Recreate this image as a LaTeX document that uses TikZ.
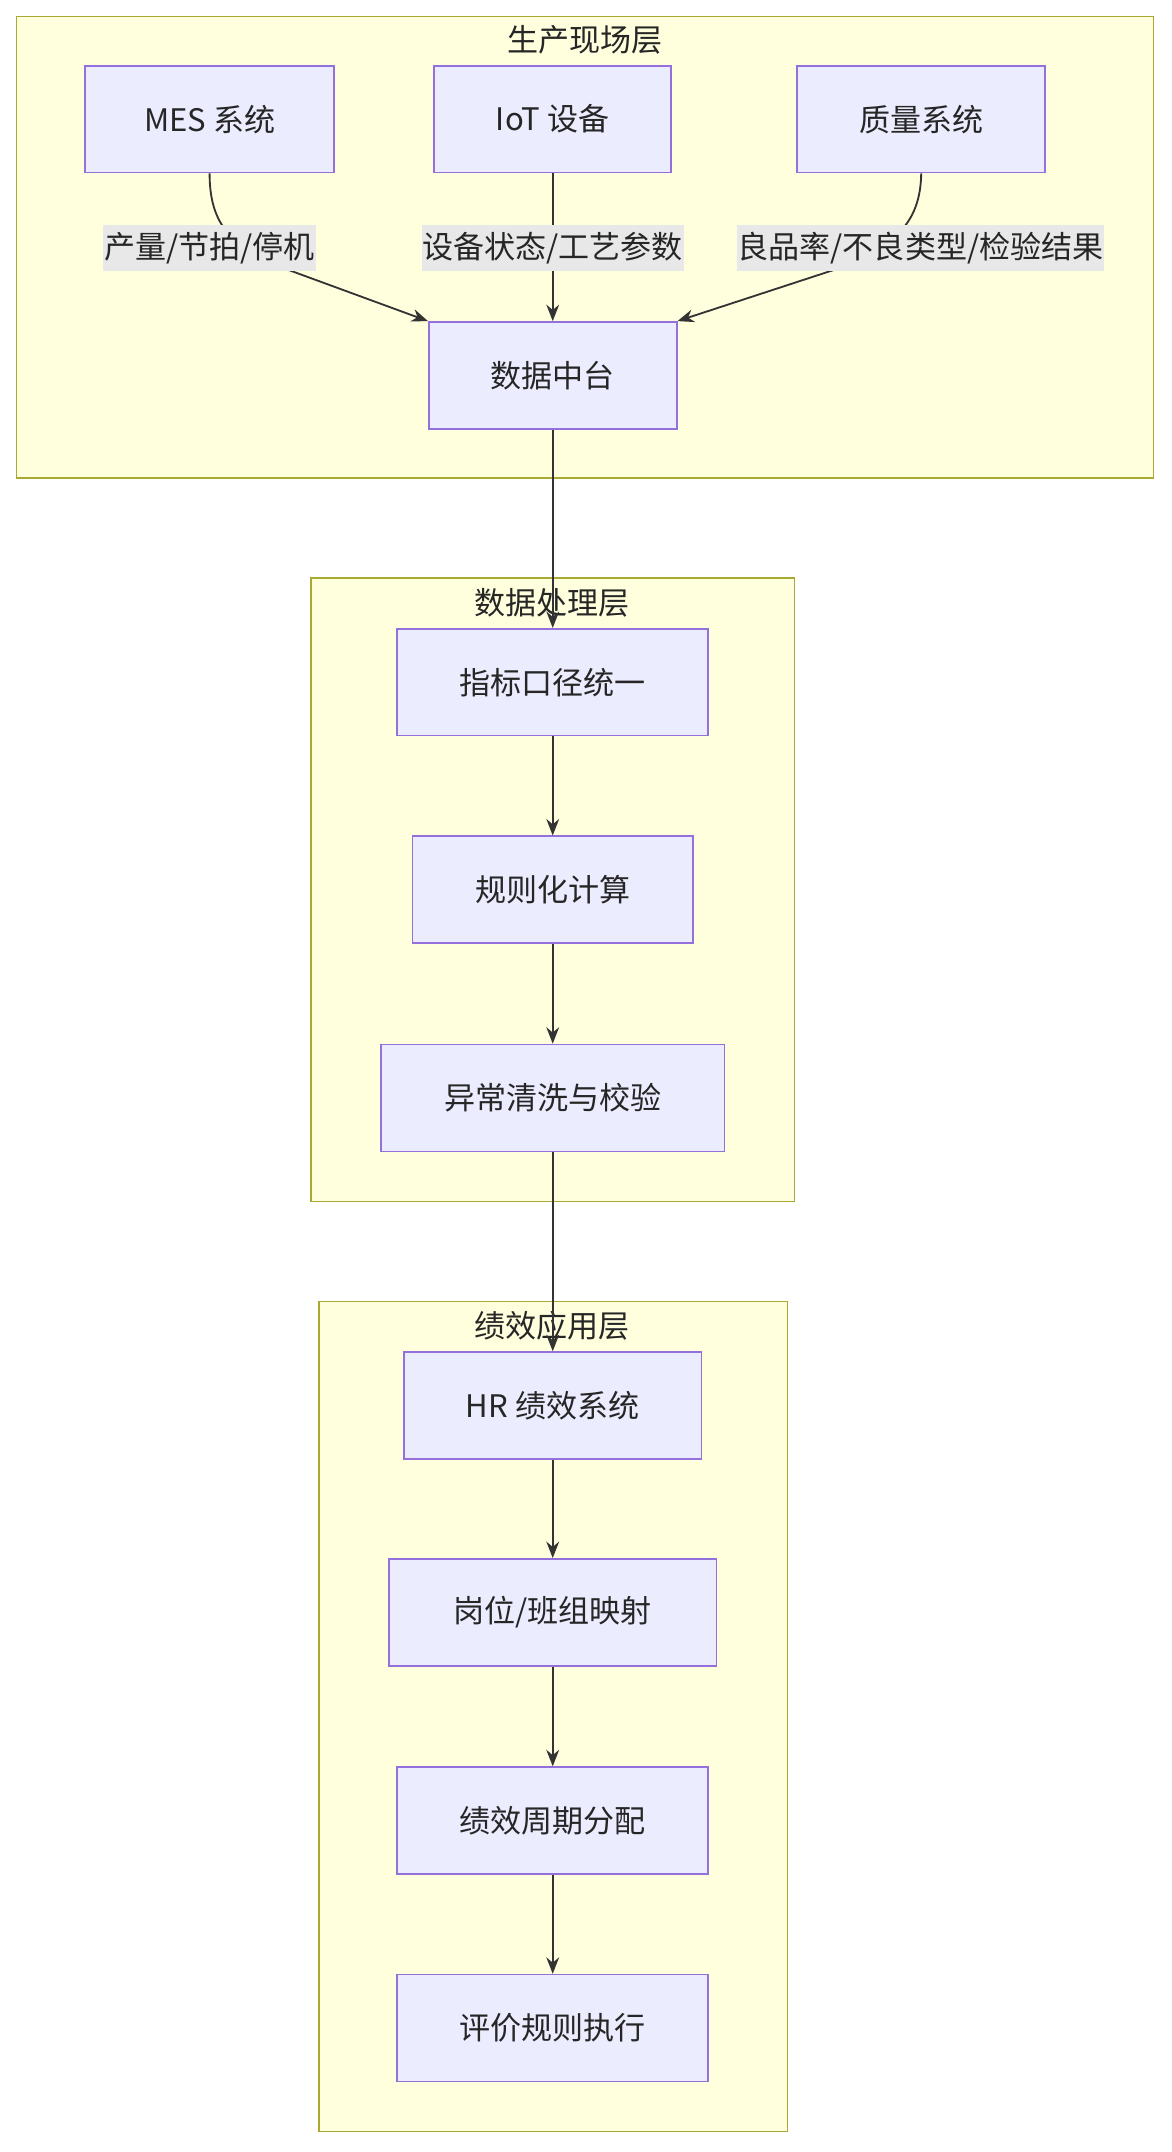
\documentclass[tikz,border=0pt]{standalone}
\usepackage{fontspec}
\setmainfont{Noto Sans CJK SC}
\usetikzlibrary{arrows.meta}
\definecolor{nodefill}{HTML}{ECECFF}
\definecolor{nodedraw}{HTML}{9370DB}
\definecolor{clfill}{HTML}{FFFFDE}
\definecolor{cldraw}{HTML}{AAAA33}
\definecolor{lblfill}{HTML}{E8E8E8}
\definecolor{edge}{HTML}{333333}
\begin{document}
\begin{tikzpicture}[x=0.75pt,y=-0.75pt,
  font=\fontsize{17}{20}\selectfont,
  box/.style={draw=nodedraw,fill=nodefill,line width=0.9pt,text=black!85,inner sep=0pt},
  cluster/.style={draw=cldraw,fill=clfill,line width=0.9pt},
  lbl/.style={fill=lblfill,inner xsep=0.5pt,inner ysep=4pt,text=black!85},
  ttl/.style={text=black!85},
  arr/.style={draw=edge,line width=1pt,-{Stealth[length=9pt,width=7pt]}}]
\useasboundingbox (0,0) rectangle (855,1571);
\fill[white] (0,0) rectangle (855,1571);
\draw[cluster] (12,12) rectangle (842,349);
\draw[cluster] (227,422) rectangle (580,877);
\draw[cluster] (233,950) rectangle (575,1556);
\node[ttl] (t1) at (427,29) {生产现场层};
\node[ttl] (t2) at (403,440) {数据处理层};
\node[ttl] (t3) at (403,968) {绩效应用层};
\newcommand{\bx}[6]{\node[box,minimum width=#4*0.75pt,minimum height=#5*0.75pt] (#1) at (#2,#3) {#6};}
\bx{mes}{153}{87}{182}{78}{MES 系统}
\bx{iot}{403.5}{87}{173}{78}{IoT 设备}
\bx{qa}{672.5}{87}{181}{78}{质量系统}
\bx{db}{403.5}{274}{181}{78}{数据中台}
\bx{p1}{403.5}{498}{227}{78}{指标口径统一}
\bx{p2}{403.5}{649.5}{205}{78}{规则化计算}
\bx{p3}{403.5}{801.5}{251}{78}{异常清洗与校验}
\bx{a1}{403.5}{1026}{217}{78}{HR 绩效系统}
\bx{a2}{403.5}{1177}{239}{78}{岗位/班组映射}
\bx{a3}{403.5}{1329}{227}{78}{绩效周期分配}
\bx{a4}{403.5}{1480.5}{227}{78}{评价规则执行}
\draw[arr] (mes.south) .. controls (153,165) and (170,180) .. (205,195) -- (db.north west);
\draw[arr] (iot.south) -- (db.north);
\draw[arr] (qa.south) .. controls (672,165) and (650,180) .. (615,195) -- (db.north east);
\node[lbl] (l1) at (153,181) {产量/节拍/停机};
\node[lbl] (l2) at (403.5,181) {设备状态/工艺参数};
\node[lbl] (l3) at (672,181) {良品率/不良类型/检验结果};
\draw[arr] (db) -- (p1);
\draw[arr] (p1) -- (p2);
\draw[arr] (p2) -- (p3);
\draw[arr] (p3) -- (a1);
\draw[arr] (a1) -- (a2);
\draw[arr] (a2) -- (a3);
\draw[arr] (a3) -- (a4);
\end{tikzpicture}
\end{document}
